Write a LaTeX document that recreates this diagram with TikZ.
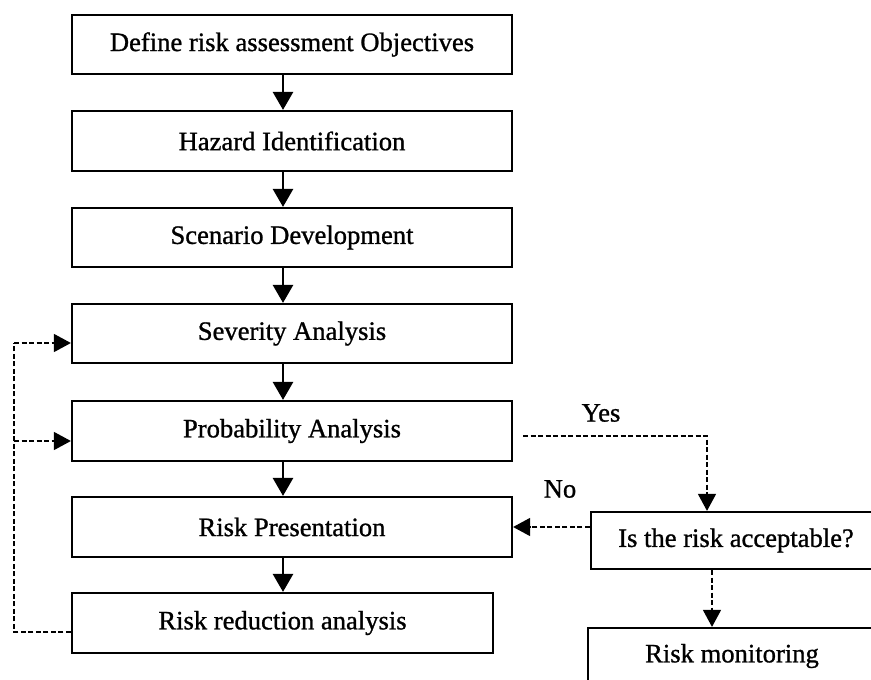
\documentclass[tikz,border=0pt]{standalone}
\usepackage{fontspec}
\setmainfont[FakeBold=1]{Liberation Serif}
\usetikzlibrary{arrows.meta}
\begin{document}
\begin{tikzpicture}[x=1pt,y=-1pt,
  box/.style={draw,line width=2.2pt,rectangle,inner sep=0pt,font=\fontsize{26.6}{30}\selectfont},
  lbl/.style={font=\fontsize{26.6}{30}\selectfont,inner sep=0pt},
  arr/.style={line width=2.8pt,-{Triangle[length=18pt,width=20pt]}},
  dsh/.style={line width=1.4pt,dash pattern=on 5pt off 2.5pt},
  darr/.style={dsh,-{Triangle[length=17pt,width=18pt]}}]
\useasboundingbox (0,0) rectangle (871,680);
\clip (0,0) rectangle (871,680);
\node[box,minimum width=440,minimum height=59] (obj) at (292,44.5) {Define risk assessment Objectives};
\node[box,minimum width=440,minimum height=60] (haz) at (292,141) {Hazard Identification};
\node[box,minimum width=440,minimum height=59] (scen) at (292,237.5) {Scenario Development};
\node[box,minimum width=440,minimum height=59] (sev) at (292,333.5) {Severity Analysis};
\node[box,minimum width=440,minimum height=60] (prob) at (292,431) {Probability Analysis};
\node[box,minimum width=440,minimum height=60] (pres) at (292,527) {Risk Presentation};
\node[box,minimum width=421,minimum height=60] (red) at (282.5,623) {Risk reduction analysis};
\node[box,minimum width=290,minimum height=57] (dec) at (736,540.5) {Is the risk acceptable?};
\node[box,minimum width=288,minimum height=60] (mon) at (732,658) {};
\node[lbl] (montxt) at (732,656) {Risk monitoring};
\node[lbl] (yes) at (601,413) {Yes};
\node[lbl] (no) at (560,489) {No};
\coordinate (ax) at (283,0);
\draw[arr] (obj.south -| ax) -- (haz.north -| ax);
\draw[arr] (haz.south -| ax) -- (scen.north -| ax);
\draw[arr] (scen.south -| ax) -- (sev.north -| ax);
\draw[arr] (sev.south -| ax) -- (prob.north -| ax);
\draw[arr] (prob.south -| ax) -- (pres.north -| ax);
\draw[arr] (pres.south -| ax) -- (red.north -| ax);
% Yes branch
\coordinate (ys) at (523,436);
\draw[darr] (ys) -| ([xshift=-29pt]dec.north);
\draw[darr] ([xshift=-24pt]dec.south) -- ([xshift=-20pt]mon.north);
% No branch
\draw[darr] (dec.west |- pres.east) -- (pres.east);
% feedback loop
\coordinate (lx) at (14,343);
\draw[dsh] ([yshift=-9pt]red.west) -| (lx);
\draw[darr] (lx) -- (sev.west |- lx);
\draw[darr] (lx |- 0,441) -- (prob.west |- 0,441);
\end{tikzpicture}
\end{document}
